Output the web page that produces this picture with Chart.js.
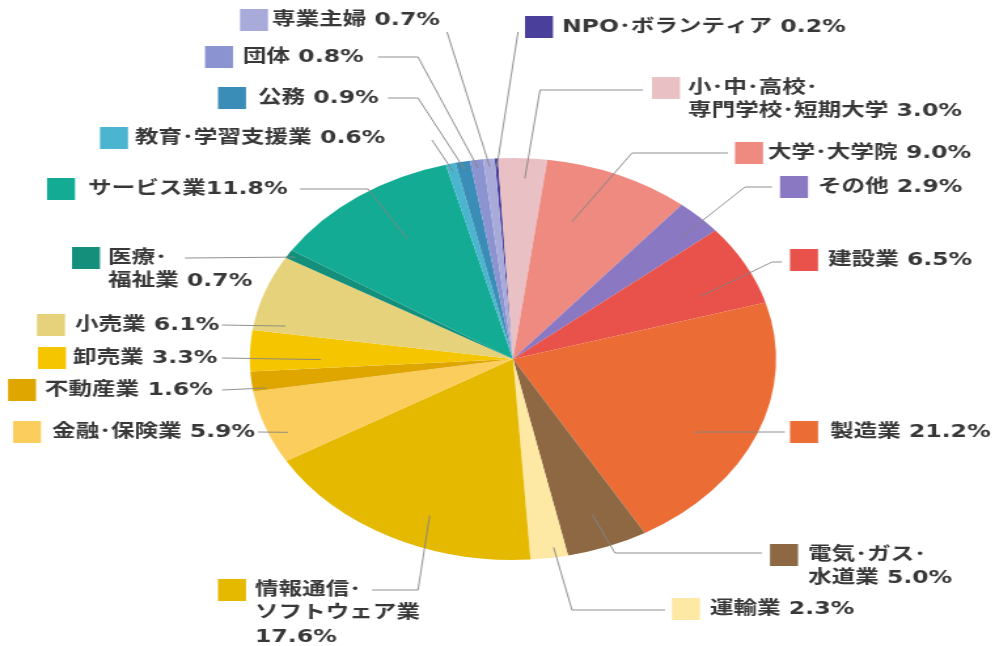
<!DOCTYPE html>
<html>
<head>
<meta charset="utf-8">
<script src="https://cdn.jsdelivr.net/npm/chart.js@4/dist/chart.umd.min.js"></script>
<style>
  html, body { margin: 0; padding: 0; background: #fff; overflow: hidden; }
  #wrap { width: 760px; height: 646px; transform-origin: 0 0; }
</style>
</head>
<body>
<div id="wrap"><canvas id="pie" width="760" height="646"></canvas></div>
<script>
// 就職先の業種別割合 (%)
var categories = ['NPO･ボランティア', '小･中･高校･\n専門学校･短期大学', '大学･大学院', 'その他', '建設業',
  '製造業', '電気･ガス･\n水道業', '運輸業', '情報通信･\nソフトウェア業', '金融･保険業', '不動産業',
  '卸売業', '小売業', '医療･\n福祉業', 'サービス業', '教育･学習支援業', '公務', '団体', '専業主婦'];
var shares = [0.2, 3.0, 9.0, 2.9, 6.5, 21.2, 5.0, 2.3, 17.6, 5.9, 1.6, 3.3, 6.1, 0.7, 11.8, 0.6, 0.9, 0.8, 0.7];
var colors = ['#4b3f9c', '#e9c0c4', '#ee8a80', '#8a78c2', '#e8524a', '#eb6c35', '#8d6843', '#fde8a4',
  '#e5b900', '#fbcd5c', '#dfa600', '#f5c500', '#e6d27a', '#138f7b', '#13ab94', '#4bb5cf', '#3a8db6',
  '#8b93d0', '#a8abda'];

// 横に引き伸ばされた元画像に合わせる倍率
var SX = 995 / 760;
document.getElementById('wrap').style.transform = 'scaleX(' + SX + ')';

// ラベル配置 (元画像の座標): 色見本, テキスト位置, 引出線の始点/折れ点, 扇形内の終点(半径比 f, 角度比 t)
var layout = [
  { box: [525, 27],  tx: 562, from: [518, 32],  bend: null,       f: 0.96, t: 0.5,  sep: ' ' },
  { box: [652, 88],  tx: 688, from: [643, 90],  bend: [540, 90],  f: 0.90, t: 0.57, sep: ' ' },
  { box: [735, 153], tx: 768, from: [728, 153], bend: [632, 153], f: 0.72, t: 0.33, sep: ' ' },
  { box: [780, 187], tx: 818, from: [772, 187], bend: [745, 187], f: 0.88, t: 0.64, sep: ' ' },
  { box: [790, 260], tx: 828, from: [782, 262], bend: [772, 262], f: 0.78, t: 0.69, sep: ' ' },
  { box: [790, 432], tx: 830, from: [785, 432], bend: [700, 432], f: 0.78, t: 0.58, sep: ' ' },
  { box: [770, 555], tx: 808, from: [762, 553], bend: [615, 553], f: 0.83, t: 0.49, sep: ' ' },
  { box: [672, 609], tx: 710, from: [665, 610], bend: [572, 610], f: 0.95, t: 0.33, sep: ' ' },
  { box: [218, 590], tx: 255, from: [372, 590], bend: [418, 590], f: 0.84, t: 0.41, sep: '\n' },
  { box: [13, 432],  tx: 52,  from: [258, 432], bend: null,       f: 0.93, t: 0.35, sep: ' ' },
  { box: [8, 390],   tx: 45,  from: [222, 390], bend: null,       f: 0.95, t: 0.1,  sep: ' ' },
  { box: [38, 358],  tx: 73,  from: [222, 358], bend: null,       f: 0.73, t: 0.28, sep: ' ' },
  { box: [37, 325],  tx: 75,  from: [222, 325], bend: null,       f: 0.88, t: 0.11, sep: ' ' },
  { box: [72, 258],  tx: 108, from: [185, 258], bend: null,       f: 0.97, t: 0.5,  sep: ' ' },
  { box: [47, 189],  tx: 88,  from: [300, 189], bend: [368, 189], f: 0.72, t: 0.55, sep: '' },
  { box: [100, 138], tx: 135, from: [432, 140], bend: null,       f: 0.96, t: 0.5,  sep: ' ' },
  { box: [218, 98],  tx: 258, from: [388, 98],  bend: [418, 98],  f: 0.96, t: 0.5,  sep: ' ' },
  { box: [205, 57],  tx: 243, from: [378, 57],  bend: [418, 57],  f: 0.96, t: 0.5,  sep: ' ' },
  { box: [240, 20],  tx: 272, from: [447, 32],  bend: null,       f: 0.96, t: 0.5,  sep: ' ' }
];

var calloutPlugin = {
  id: 'callouts',
  afterDatasetsDraw: function(chart) {
    var ctx = chart.ctx;
    var meta = chart.getDatasetMeta(0);
    ctx.save();
    // 引出線
    ctx.strokeStyle = '#858585';
    ctx.lineWidth = 0.9;
    for (var i = 0; i < layout.length; i++) {
      var L = layout[i], arc = meta.data[i];
      var a = arc.startAngle + L.t * (arc.endAngle - arc.startAngle);
      var ax = arc.x + Math.cos(a) * arc.outerRadius * L.f;
      var ay = arc.y + Math.sin(a) * arc.outerRadius * L.f;
      ctx.beginPath();
      ctx.moveTo(L.from[0] / SX, L.from[1]);
      if (L.bend) ctx.lineTo(L.bend[0] / SX, L.bend[1]);
      ctx.lineTo(ax, ay);
      ctx.stroke();
    }
    // 色見本とテキスト
    ctx.font = 'bold 18px "DejaVu Sans", "Noto Sans CJK JP", sans-serif';
    ctx.textBaseline = 'middle';
    ctx.textAlign = 'left';
    for (var j = 0; j < layout.length; j++) {
      var B = layout[j];
      ctx.fillStyle = colors[j];
      ctx.fillRect(B.box[0] / SX, B.box[1] - 11, 28 / SX, 22);
      var txt = categories[j] + B.sep + shares[j].toFixed(1) + '%';
      var lines = txt.split('\n');
      ctx.fillStyle = '#383838';
      for (var k = 0; k < lines.length; k++) {
        ctx.fillText(lines[k], B.tx / SX, B.box[1] + k * 23.5);
      }
    }
    ctx.restore();
  }
};

var data = {
  labels: categories,
  datasets: [{
    data: shares,
    backgroundColor: colors,
    borderWidth: 0,
    hoverOffset: 0
  }]
};

var options = {
  responsive: false,
  animation: false,
  rotation: -4,
  radius: 201,
  layout: {
    padding: { top: 158, bottom: 86, left: 190.8, right: 167.2 }
  },
  plugins: {
    legend: { display: false },
    title: { display: false },
    tooltip: { enabled: false }
  }
};

var ctx = document.getElementById('pie');
var myChart = new Chart(ctx, {
  type: 'pie',
  data: data,
  options: options,
  plugins: [calloutPlugin]
});
</script>
</body>
</html>
